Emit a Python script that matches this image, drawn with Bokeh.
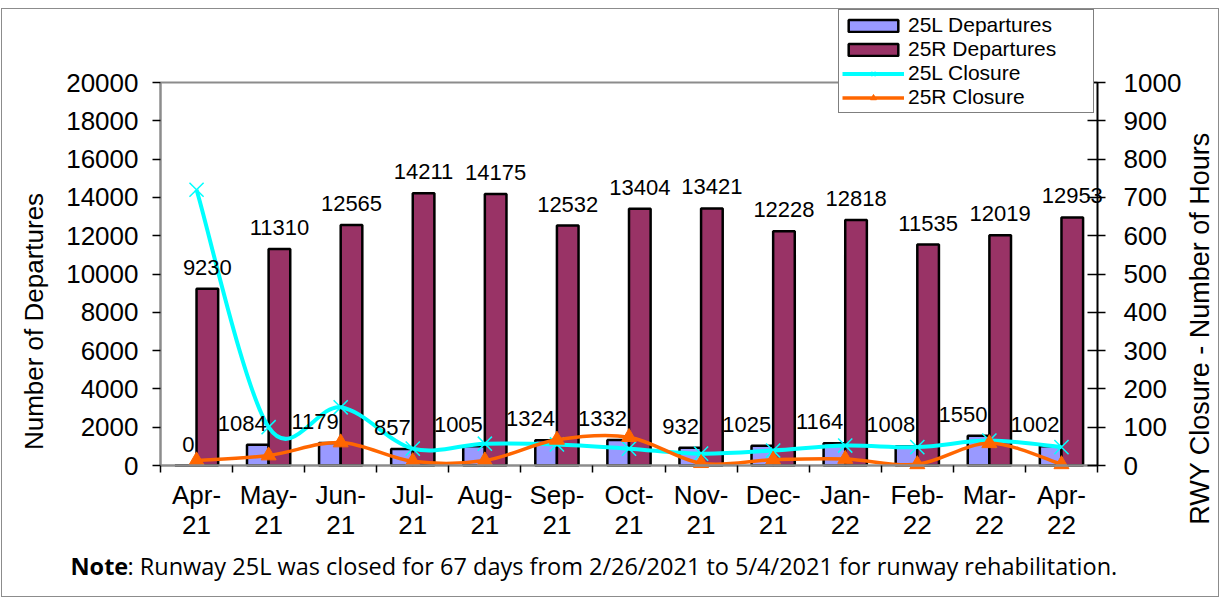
import math
import numpy as np
from bokeh.plotting import figure
from bokeh.models import (Range1d, LinearAxis, FixedTicker, ColumnDataSource,
                          LabelSet, Legend, LegendItem, Label)
from bokeh.core.properties import value
from bokeh.embed import file_html
from bokeh.resources import INLINE

# ---------------- data ----------------
months = ["Apr-\n21", "May-\n21", "Jun-\n21", "Jul-\n21", "Aug-\n21", "Sep-\n21",
          "Oct-\n21", "Nov-\n21", "Dec-\n21", "Jan-\n22", "Feb-\n22", "Mar-\n22", "Apr-\n22"]
dep_25l = [0, 1084, 1179, 857, 1005, 1324, 1332, 932, 1025, 1164, 1008, 1550, 1002]
dep_25r = [9230, 11310, 12565, 14211, 14175, 12532, 13404, 13421, 12228, 12818, 11535, 12019, 12953]
closure_25l = [720, 100, 152, 44, 57, 55, 44, 31, 39, 52, 48, 65, 48]
closure_25r = [13, 26, 60, 11, 13, 67, 74, 6, 15, 17, 3, 58, 3]
left_ticks = list(range(0, 20001, 2000))
right_ticks = list(range(0, 1001, 100))
left_title = "Number of Departures"
right_title = "RWY Closure - Number of Hours"
note_bold = "Note"
note_text = ": Runway 25L was closed for 67 days from 2/26/2021 to 5/4/2021 for runway rehabilitation."

# ---------------- layout constants (pixels inside the figure) ----------------
FONT = "Liberation Sans"
NOTE_FONT = "Open Sans"
BAR_W = 0.3
FIG_W, FIG_H = 1218, 589
AX_L, AX_R = 158, 1095          # x pixel of left / right value axes
AX_0, AX_TOP = 456, 73          # y pixel (from top) of value 0 and of the top value
n = len(months)
LMAX, RMAX = left_ticks[-1], right_ticks[-1]

ppx = (AX_R - AX_L) / n
x_start = -0.5 - AX_L / ppx
x_end = n - 0.5 + (FIG_W - AX_R) / ppx
ppy = (AX_0 - AX_TOP) / LMAX
y_start = -(FIG_H - AX_0) / ppy
y_end = AX_0 / ppy

idx = np.arange(n, dtype=float)

p = figure(width=FIG_W, height=FIG_H, output_backend="svg", toolbar_location=None,
           x_range=Range1d(x_start, x_end), y_range=Range1d(y_start, y_end),
           min_border=0)
p.styles = {"border": "1px solid #8c8c8c", "margin": "8px 0px 0px 1px"}
p.extra_y_ranges = {"hours": Range1d(y_start * RMAX / LMAX, y_end * RMAX / LMAX)}
p.background_fill_color = "white"
p.border_fill_color = "white"
p.outline_line_color = None
p.xgrid.visible = False
p.ygrid.visible = False

# x axis: labels at category centres, tick marks at category boundaries
xa = p.xaxis[0]
xa.fixed_location = 0
xa.bounds = (-0.5, n - 0.5)
xa.ticker = FixedTicker(ticks=list(range(n)), minor_ticks=[i - 0.5 for i in range(n + 1)])
xa.major_label_overrides = {i: months[i] for i in range(n)}
xa.major_tick_out = 0
xa.major_tick_in = 0
xa.minor_tick_out = 7
xa.minor_tick_in = 0
xa.minor_tick_line_color = "black"
xa.minor_tick_line_width = 1.5
xa.axis_line_color = "#8c8c8c"
xa.axis_line_width = 2.5
xa.major_label_standoff = 7
xa.major_label_text_font = FONT
xa.major_label_text_font_size = "26px"
xa.major_label_text_color = "black"
xa.major_label_text_line_height = 1.0

# top border of the plot area
ta = LinearAxis(fixed_location=LMAX, bounds=(-0.5, n - 0.5), ticker=FixedTicker(ticks=[]),
                major_label_text_font_size="0px", major_tick_out=0, major_tick_in=0,
                minor_tick_out=0, minor_tick_in=0, axis_line_color="#8c8c8c",
                axis_line_width=2)
p.add_layout(ta, "above")

# left axis
ya = p.yaxis[0]
ya.fixed_location = -0.5
ya.bounds = (0, LMAX)
ya.ticker = FixedTicker(ticks=left_ticks)
ya.major_label_text_font = FONT
ya.major_label_text_font_size = "26px"
ya.major_label_text_color = "black"
ya.major_label_standoff = 14
ya.major_tick_in = 0
ya.major_tick_out = 8
ya.major_tick_line_color = "black"
ya.major_tick_line_width = 1.5
ya.minor_tick_out = 0
ya.minor_tick_in = 0
ya.axis_line_color = "#8c8c8c"
ya.axis_line_width = 2.5

# right axis
ra = LinearAxis(y_range_name="hours", ticker=FixedTicker(ticks=right_ticks),
                fixed_location=n - 0.5, bounds=(0, RMAX))
ra.major_label_text_font = FONT
ra.major_label_text_font_size = "26px"
ra.major_label_text_color = "black"
ra.major_label_standoff = 18
ra.major_tick_in = 10
ra.major_tick_out = 8
ra.major_tick_line_width = 1.5
ra.minor_tick_out = 0
ra.minor_tick_in = 0
ra.axis_line_color = "black"
ra.axis_line_width = 2
p.add_layout(ra, "right")

# axis titles
p.add_layout(Label(x=31, y=FIG_H - 312, x_units="screen", y_units="screen",
                   text=left_title, angle=math.pi / 2, text_align="center",
                   text_baseline="middle", text_font=FONT, text_font_size="26px",
                   text_color="black"))
p.add_layout(Label(x=1197, y=FIG_H - 319, x_units="screen", y_units="screen",
                   text=right_title, angle=math.pi / 2, text_align="center",
                   text_baseline="middle", text_font=FONT, text_font_size="27px",
                   text_color="black"))

# bars
src = ColumnDataSource(dict(
    xl=idx - BAR_W / 2, xr=idx + BAR_W / 2, xc=idx,
    l=dep_25l, r=dep_25r,
    lt=[str(v) for v in dep_25l], rt=[str(v) for v in dep_25r]))
bar_l = p.vbar(x="xl", width=BAR_W, top="l", bottom=0, source=src,
               fill_color="#9999FF", line_color="black", line_width=2.5)
bar_r = p.vbar(x="xr", width=BAR_W, top="r", bottom=0, source=src,
               fill_color="#993366", line_color="black", line_width=2.5)

p.add_layout(LabelSet(x="xr", y="r", text="rt", source=src, text_align="center",
                      y_offset=14, text_font=value(FONT), text_font_size=value("22px"),
                      text_color="black"))
p.add_layout(LabelSet(x="xc", y="l", text="lt", source=src, text_align="right",
                      x_offset=-2, y_offset=14, text_font=value(FONT),
                      text_font_size=value("22px"), text_color="black"))


# smoothed closure lines (Bezier segments through the data points)
def bez(xs, ys):
    m = len(xs)
    out = {k: [] for k in ("x0", "y0", "x1", "y1", "cx0", "cy0", "cx1", "cy1")}
    for i in range(m - 1):
        a, b = max(i - 1, 0), min(i + 2, m - 1)
        out["x0"].append(xs[i]); out["y0"].append(ys[i])
        out["x1"].append(xs[i + 1]); out["y1"].append(ys[i + 1])
        out["cx0"].append(xs[i] + (xs[i + 1] - xs[a]) / 6)
        out["cy0"].append(ys[i] + (ys[i + 1] - ys[a]) / 6)
        out["cx1"].append(xs[i + 1] - (xs[b] - xs[i]) / 6)
        out["cy1"].append(ys[i + 1] - (ys[b] - ys[i]) / 6)
    return ColumnDataSource(out)


CYAN = "#00FFFF"
ORANGE = "#FF6600"

p.bezier(x0="x0", y0="y0", x1="x1", y1="y1", cx0="cx0", cy0="cy0", cx1="cx1", cy1="cy1",
         source=bez(list(idx), closure_25l), y_range_name="hours",
         line_color=CYAN, line_width=4)
leg_l = p.line(x=idx, y=closure_25l, y_range_name="hours", line_color=CYAN,
               line_width=4, visible=False)
mk_l = p.scatter(x=idx, y=closure_25l, y_range_name="hours", marker="x", size=20,
                 line_color=CYAN, line_width=1.5)

p.bezier(x0="x0", y0="y0", x1="x1", y1="y1", cx0="cx0", cy0="cy0", cx1="cx1", cy1="cy1",
         source=bez(list(idx), closure_25r), y_range_name="hours",
         line_color=ORANGE, line_width=3.5)
leg_r = p.line(x=idx, y=closure_25r, y_range_name="hours", line_color=ORANGE,
               line_width=3.5, visible=False)
mk_r = p.scatter(x=idx, y=closure_25r, y_range_name="hours", marker="triangle", size=15,
                 fill_color=ORANGE, line_color=ORANGE)

legend = Legend(items=[
    LegendItem(label="25L Departures", renderers=[bar_l]),
    LegendItem(label="25R Departures", renderers=[bar_r]),
    LegendItem(label="25L Closure", renderers=[leg_l, mk_l]),
    LegendItem(label="25R Closure", renderers=[leg_r, mk_r]),
], location=(836, FIG_H - 104))
legend.label_text_font = FONT
legend.label_text_font_size = "21px"
legend.label_text_color = "black"
legend.glyph_width = 62
legend.glyph_height = 15
legend.label_height = 23
legend.label_width = 182
legend.label_standoff = 4
legend.spacing = 0
legend.padding = 3
legend.margin = 0
legend.border_line_color = "black"
legend.border_line_width = 1
legend.background_fill_color = "white"
legend.background_fill_alpha = 1
p.add_layout(legend, "center")

# note
p.add_layout(Label(x=68, y=FIG_H - 572, x_units="screen", y_units="screen", text=note_bold,
                   text_font=NOTE_FONT, text_font_size="23.5px", text_font_style="bold",
                   text_color="black"))
p.add_layout(Label(x=125, y=FIG_H - 572, x_units="screen", y_units="screen", text=note_text,
                   text_font=NOTE_FONT, text_font_size="23.5px", text_color="black"))

open("out.html", "w").write(file_html(p, INLINE))
